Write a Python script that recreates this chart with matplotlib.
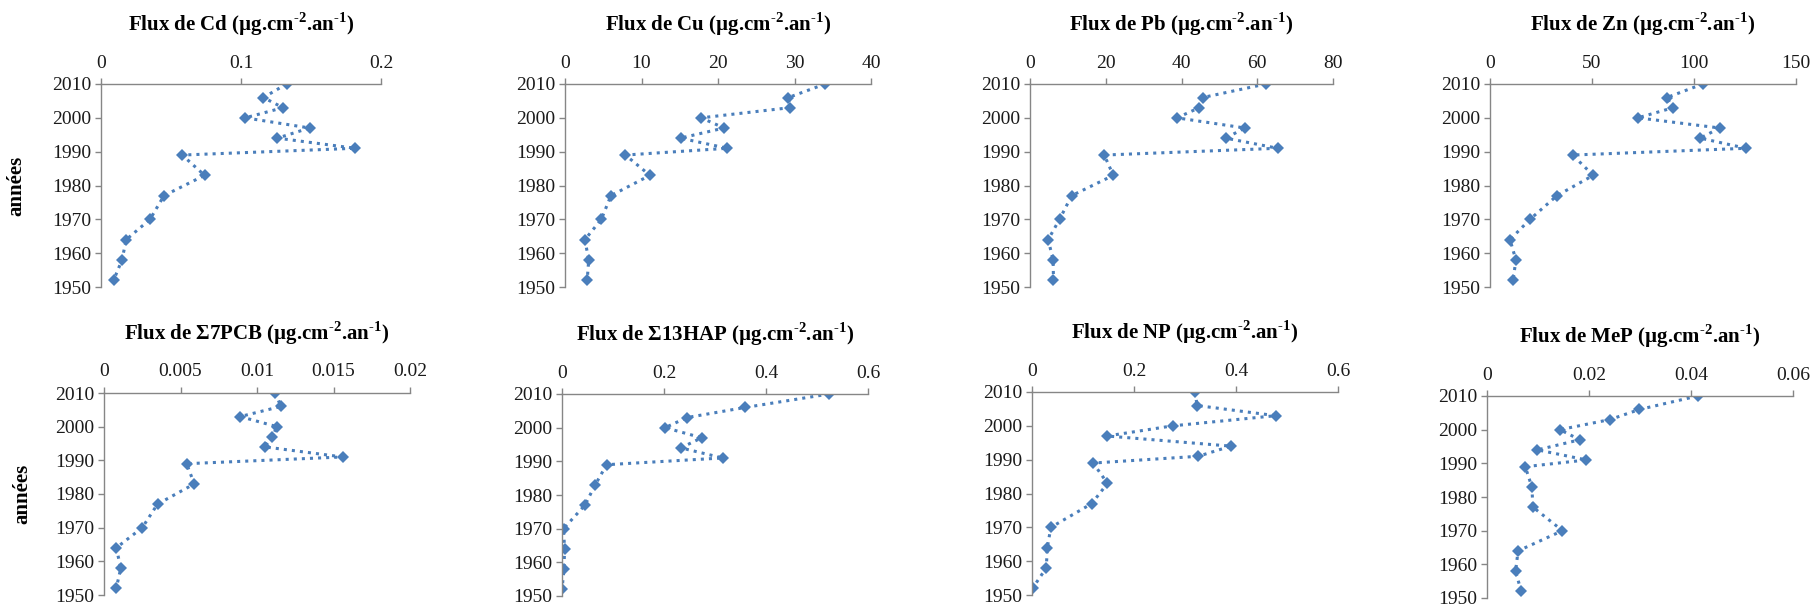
import matplotlib
matplotlib.use("Agg")
import matplotlib.pyplot as plt
from matplotlib.ticker import FuncFormatter, MultipleLocator

plt.rcParams['font.family'] = ['Liberation Serif', 'DejaVu Serif']
plt.rcParams['mathtext.fontset'] = 'custom'
plt.rcParams['mathtext.rm'] = 'Liberation Serif'
plt.rcParams['mathtext.bf'] = 'Liberation Serif:bold'

# sediment layers (years)
years = [2010, 2006, 2003, 2000, 1997, 1994, 1991, 1989, 1983, 1977, 1970, 1964, 1958, 1952]

# fluxes (ug.cm-2.an-1)
cd = [0.1325, 0.116, 0.130, 0.103, 0.149, 0.126, 0.1815, 0.058, 0.074, 0.045, 0.035, 0.018, 0.015, 0.009]
cu = [34.0, 29.2, 29.4, 17.8, 20.8, 15.1, 21.2, 7.9, 11.1, 6.0, 4.75, 2.6, 3.1, 2.9]
pb = [62.3, 45.6, 44.7, 38.8, 56.7, 51.7, 65.4, 19.6, 22.0, 11.0, 7.8, 4.8, 6.1, 6.2]
zn = [104.3, 86.7, 89.8, 72.5, 112.6, 103.1, 125.5, 40.5, 50.6, 32.8, 19.6, 9.8, 12.7, 11.3]
pcb = [0.0112, 0.01156, 0.0089, 0.0113, 0.011, 0.0105, 0.0156, 0.0054, 0.0059, 0.0035, 0.0025, 0.0008, 0.0011, 0.0008]
hap = [0.524, 0.359, 0.245, 0.202, 0.274, 0.233, 0.315, 0.0875, 0.065, 0.045, 0.003, 0.005, 0.004, 0.0]
np_ = [0.319, 0.324, 0.478, 0.276, 0.147, 0.390, 0.326, 0.120, 0.148, 0.117, 0.037, 0.030, 0.028, 0.001]
mep = [0.0413, 0.0299, 0.0241, 0.0143, 0.0182, 0.0099, 0.0195, 0.0075, 0.0088, 0.009, 0.0148, 0.0061, 0.0056, 0.0067]

names = ['Cd', 'Cu', 'Pb', 'Zn', 'Σ7PCB', 'Σ13HAP', 'NP', 'MeP']
series = [cd, cu, pb, zn, pcb, hap, np_, mep]
xmax = [0.2, 40, 80, 150, 0.02, 0.6, 0.6, 0.06]
xstep = [0.1, 10, 20, 50, 0.005, 0.2, 0.2, 0.02]

# axes boxes in pixels: left, top, width, height
boxes = [(101, 84, 280, 203), (565, 84, 306, 203), (1030, 84, 303, 203), (1490, 84, 306, 203),
         (104, 393, 306, 202), (562, 394, 306, 202), (1032, 392, 306, 203), (1487, 396, 306, 202)]

W, H = 1814, 608
fig = plt.figure(figsize=(W / 100, H / 100), dpi=100)
blue = '#4A7EBB'
grey = '#868686'

for i in range(8):
    l, t, w, h = boxes[i]
    ax = fig.add_axes([l / W, (H - t - h) / H, w / W, h / H])
    ax.plot(series[i], years, linestyle=':', linewidth=2.2, color=blue,
            marker='D', markersize=6, markeredgewidth=0)
    ax.set_xlim(0, xmax[i])
    ax.set_ylim(1950, 2010)
    ax.xaxis.set_major_locator(MultipleLocator(xstep[i]))
    ax.yaxis.set_major_locator(MultipleLocator(10))
    ax.xaxis.set_major_formatter(FuncFormatter(lambda v, p: '%g' % round(v, 6)))
    ax.xaxis.tick_top()
    for s in ['right', 'bottom']:
        ax.spines[s].set_visible(False)
    for s in ['left', 'top']:
        ax.spines[s].set_color(grey)
        ax.spines[s].set_linewidth(1)
    ax.tick_params(axis='both', direction='out', length=4, width=1, color=grey,
                   labelsize=14, labelcolor='#1a1a1a')
    ax.tick_params(axis='x', pad=5)
    ax.tick_params(axis='y', pad=3)
    ax.patch.set_visible(False)

    title = 'Flux de %s (µg.cm$^{\\mathbf{\u20102}}$.an$^{\\mathbf{\u20101}}$)' % names[i]
    ax.annotate(title, xy=(0.5, 1), xycoords='axes fraction', xytext=(0, 43),
                textcoords='offset points', ha='center', va='center',
                fontsize=15, fontweight='bold')
    if i % 4 == 0:
        ax.set_ylabel('années', fontsize=15, fontweight='bold')
        ax.yaxis.set_label_coords((-75 if i == 0 else -72) / w, 0.5)

fig.savefig('out.png', dpi=100)
